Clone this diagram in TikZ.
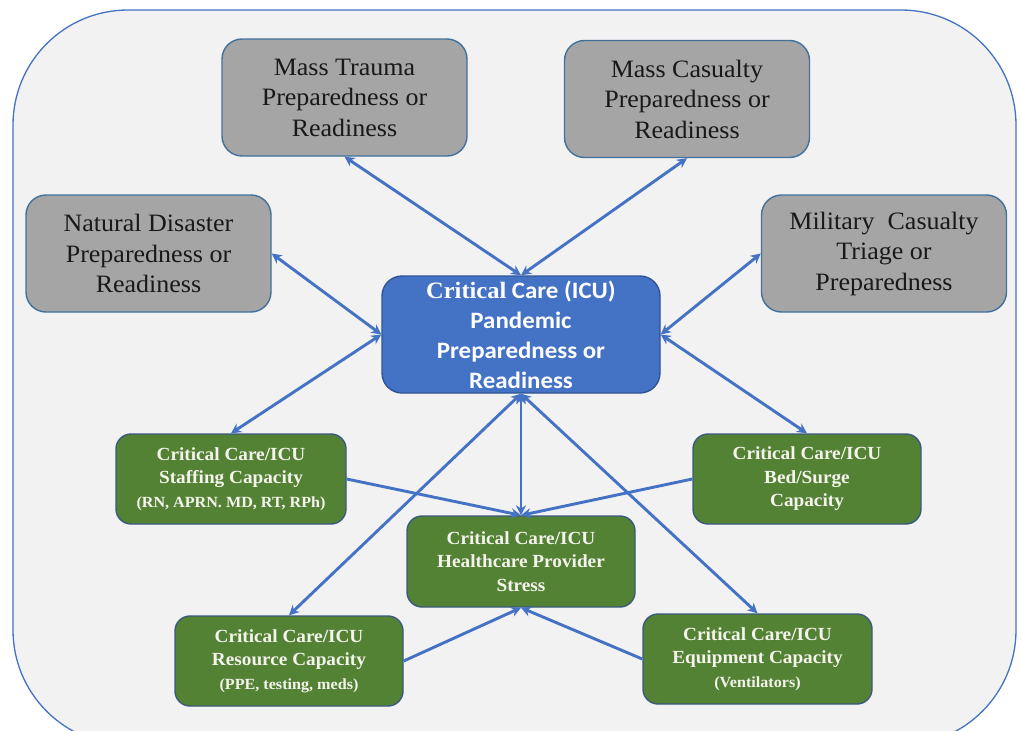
\documentclass[tikz,border=0pt]{standalone}
\usepackage{fontspec}
\setmainfont{Liberation Serif}[FakeStretch=1.04]
\newfontfamily\cfont{Carlito}[FakeStretch=1.06]
\usetikzlibrary{arrows.meta}
\definecolor{bgc}{HTML}{F2F2F2}
\definecolor{framec}{HTML}{4472C4}
\definecolor{grayfill}{HTML}{A5A5A5}
\definecolor{grayline}{HTML}{41719C}
\definecolor{bluefill}{HTML}{4472C4}
\definecolor{blueline}{HTML}{2F5597}
\definecolor{greenfill}{HTML}{548235}
\definecolor{greenline}{HTML}{3A5A7C}
\definecolor{arrowc}{HTML}{4472C4}
\definecolor{greentext}{HTML}{F4F4EC}
\begin{document}
\begin{tikzpicture}[x=1pt,y=-1pt,
  graybox/.style={draw=grayline, line width=1.4pt, fill=grayfill, rounded corners=20pt,
    minimum width=245pt, minimum height=117pt, inner sep=0pt, align=center,
    text=black!90, font=\fontsize{25}{30.5}\selectfont},
  centerbox/.style={draw=blueline, line width=1.4pt, fill=bluefill, rounded corners=20pt,
    minimum width=278pt, minimum height=117pt, inner sep=0pt, align=center,
    text=white, font=\cfont\bfseries\fontsize{23.5}{30}\selectfont},
  greenbox/.style={draw=greenline, line width=1.4pt, fill=greenfill, rounded corners=15pt,
    minimum width=228pt, minimum height=90pt, inner sep=0pt, align=center,
    text=greentext, font=\bfseries\fontsize{18.5}{23.5}\selectfont},
  dbl/.style={draw=arrowc, line width=2.9pt,
    {Stealth[length=10pt,width=10pt]}-{Stealth[length=10pt,width=10pt]}},
  one/.style={draw=arrowc, line width=2.9pt, -{Stealth[length=10pt,width=10pt]}}
]
\useasboundingbox (0,0) rectangle (1021,731);
\fill[white] (0,0) rectangle (1021,731);
\draw[framec, line width=1.3pt, fill=bgc, rounded corners=115pt] (13,10) rectangle (1016,745);

% gray boxes
\node[graybox] (mt) at (344.5,97.5) {Mass Trauma\\Preparedness or\\Readiness};
\node[graybox] (mc) at (687,99) {Mass Casualty\\Preparedness or\\Readiness};
\node[graybox] (nd) at (148.5,253.5) {Natural Disaster\\Preparedness or\\Readiness};
\node[graybox] (mil) at (884,253.5) {Military\ \ Casualty\\Triage or\\Preparedness};

% center
\node[centerbox] (c) at (521,334.5) {{\rmfamily\bfseries Critical} Care (ICU)\\Pandemic\\Preparedness or\\Readiness};

% green boxes
\newcommand{\paren}[1]{{\fontsize{15.5}{23.5}\selectfont #1}}
\node[greenbox, minimum width=230pt] (st) at (231,479) {Critical Care/ICU\\Staffing Capacity\\\paren{(RN, APRN. MD, RT, RPh)}};
\node[greenbox] (bed) at (807,479) {Critical Care/ICU\\Bed/Surge\\Capacity};
\node[greenbox, minimum height=91pt] (ss) at (521,561.5) {Critical Care/ICU\\Healthcare Provider\\Stress};
\node[greenbox] (res) at (289,661) {Critical Care/ICU\\Resource Capacity\\\paren{(PPE, testing, meds)}};
\node[greenbox, minimum width=229pt] (eq) at (757.5,659) {Critical Care/ICU\\Equipment Capacity\\\paren{(Ventilators)}};

% connectors
\draw[dbl] (mt.south) -- (c.north);
\draw[dbl] (mc.south) -- (c.north);
\draw[dbl] (nd.east) -- (c.west);
\draw[dbl] (mil.west) -- (c.east);
\draw[dbl] (c.west) -- (st.north);
\draw[dbl] (c.east) -- (bed.north);
\draw[dbl] (c.south) -- (res.north);
\draw[dbl] (c.south) -- (ss.north);
\draw[dbl] (c.south) -- (eq.north);
\draw[one] (st.east) -- (ss.north);
\draw[one] (bed.west) -- (ss.north);
\draw[one] (res.east) -- (ss.south);
\draw[one] (eq.west) -- (ss.south);
\end{tikzpicture}
\end{document}
